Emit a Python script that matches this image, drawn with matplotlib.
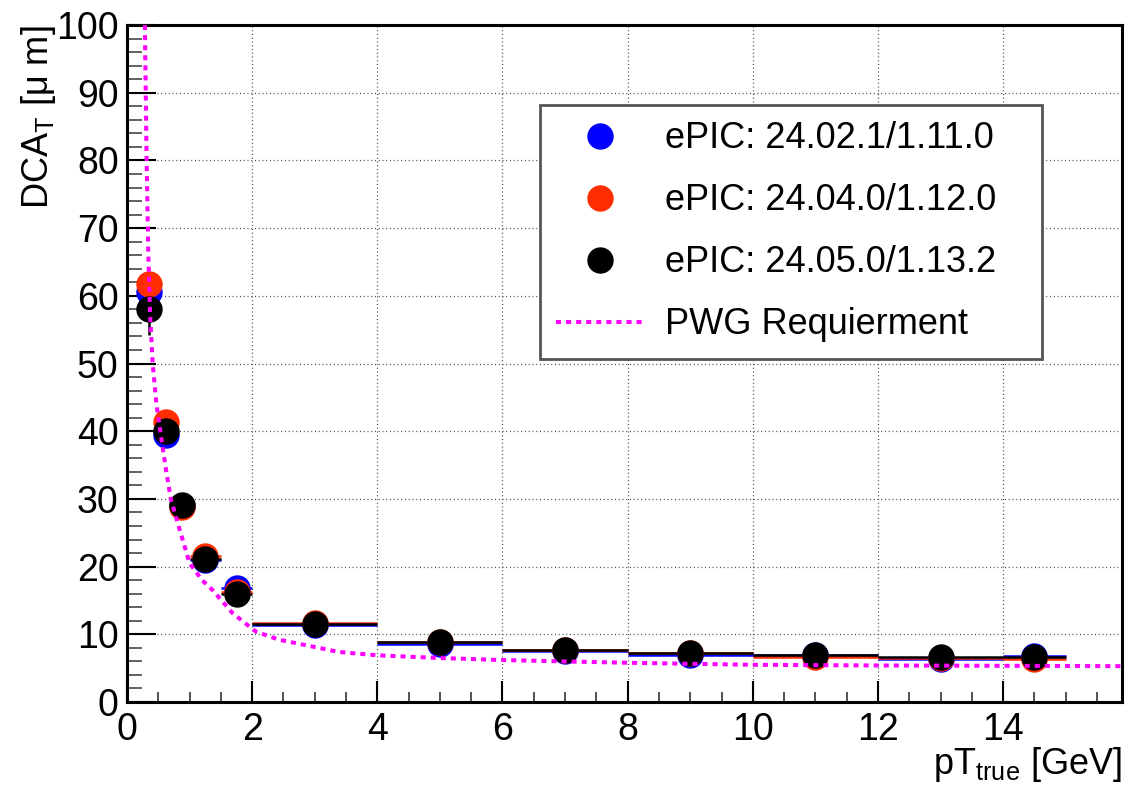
import numpy as np
import matplotlib
matplotlib.use("Agg")
import matplotlib.pyplot as plt
from matplotlib.lines import Line2D
from matplotlib.ticker import MultipleLocator

''' Data '''
# pT bins (GeV)
bin_lo = [0.2, 0.5, 0.75, 1.0, 1.5, 2.0, 4.0, 6.0, 8.0, 10.0, 12.0, 14.0]
bin_hi = [0.5, 0.75, 1.0, 1.5, 2.0, 4.0, 6.0, 8.0, 10.0, 12.0, 14.0, 15.0]

# DCA_T resolution (um) per software version
dca_2402 = [60.5, 39.4, 29.0, 21.0, 16.8, 11.4, 8.6, 7.5, 7.0, 6.9, 6.4, 6.8]
dca_2404 = [61.8, 41.3, 28.8, 21.5, 16.3, 11.7, 8.8, 7.7, 7.2, 6.7, 6.5, 6.3]
dca_2405 = [58.0, 40.0, 29.1, 21.2, 16.0, 11.6, 8.8, 7.7, 7.3, 7.0, 6.7, 6.7]
err_2402 = [1.5, 0.4, 0.3, 0.3, 0.3, 0.2, 0.2, 0.2, 0.2, 0.2, 0.2, 0.2]
err_2404 = [1.0, 0.4, 0.3, 0.3, 0.3, 0.2, 0.2, 0.2, 0.2, 0.2, 0.2, 0.2]
err_2405 = [3.8, 0.4, 0.3, 0.3, 0.3, 0.2, 0.2, 0.2, 0.2, 0.2, 0.2, 0.2]

labels = ["ePIC: 24.02.1/1.11.0", "ePIC: 24.04.0/1.12.0", "ePIC: 24.05.0/1.13.2"]

# PWG requirement curve
pwg_pt = [0.286, 0.31, 0.338, 0.37, 0.41, 0.47, 0.54, 0.62, 0.70, 0.84, 1.0,
          1.2, 1.37, 1.69, 2.06, 2.43, 2.75, 3.38, 4.0, 5.0, 6.0, 8.0, 10.0,
          12.0, 14.0, 15.9]
pwg_dca = [100, 82, 67, 57, 50, 44, 39.5, 34.5, 30, 25.5, 20.5,
           18.0, 16.5, 13.1, 10.4, 9.2, 8.6, 7.4, 6.9, 6.5, 6.2, 5.8, 5.5,
           5.4, 5.35, 5.3]

''' Plot '''
FONT_SIZE = 26
plt.rcParams["font.family"] = ["Liberation Sans", "DejaVu Sans"]
plt.rcParams["font.size"] = FONT_SIZE
plt.rcParams["mathtext.fontset"] = "custom"
plt.rcParams["mathtext.rm"] = "Liberation Sans"
plt.rcParams["mathtext.it"] = "Liberation Sans:italic"
plt.rcParams["mathtext.default"] = "regular"

c_blue = "#0000ff"
c_red = "#ff2d00"
c_black = "#000000"
c_pwg = "#ff00ff"

fig = plt.figure(figsize=(11.27, 7.88), dpi=100)
ax1 = fig.add_axes([0.1127, 0.1091, 0.8829, 0.8591])

ax1.grid(True, color="#444444", linestyle=(0, (0.8, 2.2)), linewidth=0.9)
ax1.set_axisbelow(True)

lo = np.array(bin_lo)
hi = np.array(bin_hi)
centers = (lo + hi) / 2
half = (hi - lo) / 2

for vals, errs, col in [(dca_2402, err_2402, c_blue),
                        (dca_2404, err_2404, c_red),
                        (dca_2405, err_2405, c_black)]:
  ax1.errorbar(centers, vals, xerr=half, yerr=errs, fmt="o", color=col,
               ms=19, mew=0, elinewidth=1.8, capsize=2.8, capthick=1.6, zorder=3)

ax1.plot(pwg_pt, pwg_dca, color=c_pwg, linewidth=2.9,
         linestyle=(0, (1.25, 1.25)), zorder=4)

ax1.set_xlim(0, 15.9)
ax1.set_ylim(0, 100)
ax1.xaxis.set_major_locator(MultipleLocator(2))
ax1.xaxis.set_minor_locator(MultipleLocator(0.5))
ax1.yaxis.set_major_locator(MultipleLocator(10))
ax1.yaxis.set_minor_locator(MultipleLocator(2))

ax1.tick_params(axis="both", which="both", direction="in", top=False, right=False)
ax1.tick_params(axis="both", which="major", labelsize=27)
ax1.tick_params(axis="x", which="major", length=15, width=1.5, pad=7)
ax1.tick_params(axis="x", which="minor", length=7.5, width=1.3, color="#444444")
ax1.tick_params(axis="y", which="major", length=21, width=1.5, pad=6)
ax1.tick_params(axis="y", which="minor", length=11, width=1.3, color="#555555")

for side in ["top", "right", "bottom", "left"]:
  ax1.spines[side].set_linewidth(2.2)
  ax1.spines[side].set_color("#000000")

ax1.set_ylabel(r"DCA$_{T}$ [μ m]", loc="top")
ax1.yaxis.set_label_coords(-0.069, 1.0)
ax1.set_xlabel(r"pT$_{true}$ [GeV]", loc="right")
ax1.xaxis.set_label_coords(1.0, -0.064)

handles = [Line2D([], [], marker="o", ls="none", color=c, ms=19, mew=0)
           for c in (c_blue, c_red, c_black)]
handles.append(Line2D([], [], color=c_pwg, linewidth=2.9,
                      linestyle=(0, (1.25, 1.25))))
leg = ax1.legend(handles, labels + ["PWG Requierment"],
                 loc="upper left",
                 bbox_to_anchor=(540 / 1127, 1 - 355 / 788, 502 / 1127, 250 / 788),
                 bbox_transform=fig.transFigure, borderaxespad=0, mode="expand",
                 frameon=True, fancybox=False, shadow=False,
                 borderpad=0.45, labelspacing=0.75, handlelength=2.45,
                 handletextpad=0.55, fontsize=FONT_SIZE)
leg.get_frame().set_edgecolor("#555555")
leg.get_frame().set_linewidth(2.0)
leg.get_frame().set_alpha(1.0)

fig.savefig("out.png", dpi=100)
